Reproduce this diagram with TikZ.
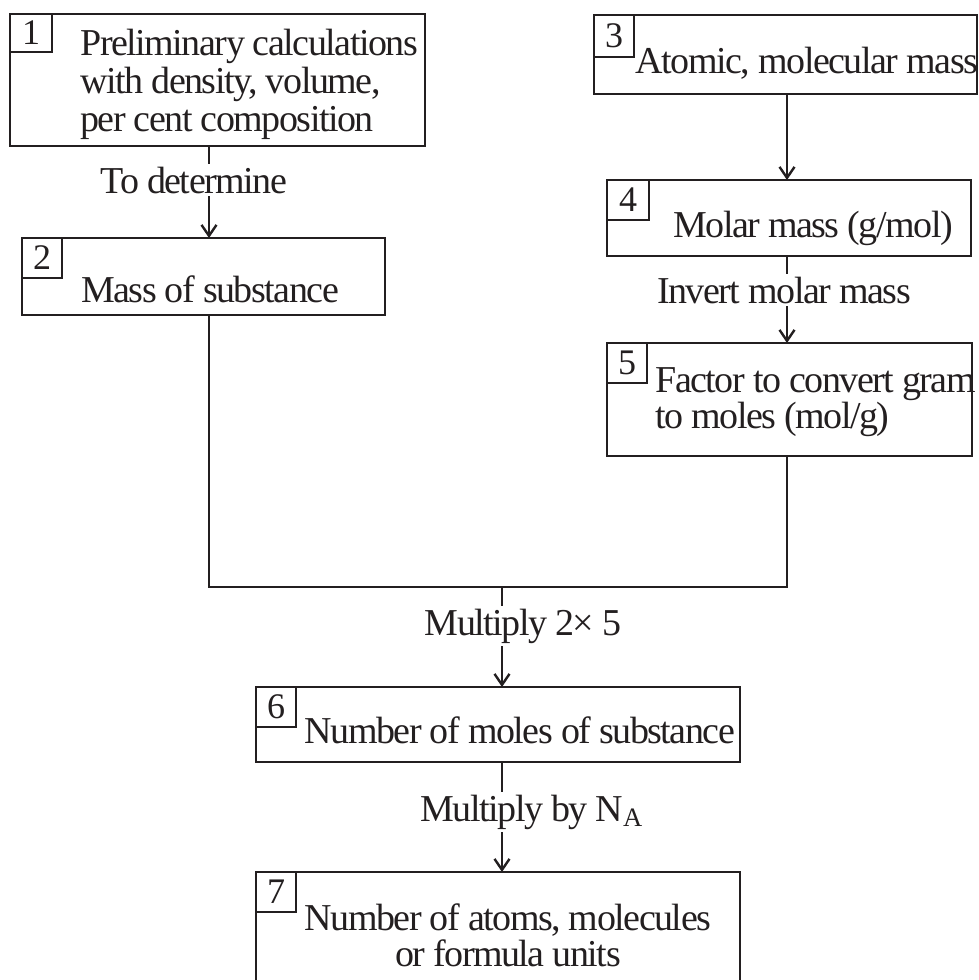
\documentclass[tikz,border=0pt]{standalone}
\usepackage{fontspec}
\setmainfont{Liberation Serif}[LetterSpace=-3.9]
\usepackage{xcolor}
\definecolor{cLine}{HTML}{231F20}
\usepackage{tikz}
\usetikzlibrary{positioning,arrows.meta,fit}
\tikzset{
  node-box/.style={draw=cLine,line width=1.2pt,inner sep=0pt,outer sep=0pt},
  node-tag/.style={draw=cLine,line width=0.9pt,inner sep=0pt,outer sep=0pt,
    anchor=north west,minimum width=20pt,minimum height=20pt,
    font=\fontsize{18}{18}\selectfont,text=cLine},
  node-text/.style={inner sep=0pt,font=\fontsize{19}{19}\selectfont,text=cLine},
  node-label/.style={fill=white,inner sep=1.5pt,anchor=base,
    font=\fontsize{19}{19}\selectfont,text=cLine},
  arrow/.style={-{Straight Barb[length=5.5pt,width=7.5pt]},line width=1.2pt,draw=cLine},
  link/.style={line width=1.2pt,draw=cLine},
}

\begin{document}
\begin{tikzpicture}[x=0.5pt,y=-0.5pt]
  \useasboundingbox (0,0) rectangle (979,980);
  % boxes
  \node[node-box,fit={(10,14) (425,146)}]  (b1) {};
  \node[node-box,fit={(22,238) (385,315)}] (b2) {};
  \node[node-box,fit={(594,15) (977,94)}]  (b3) {};
  \node[node-box,fit={(607,180) (971,256)}] (b4) {};
  \node[node-box,fit={(607,343) (972,456)}] (b5) {};
  \node[node-box,fit={(256,687) (740,762)}] (b6) {};
  \node[node-box,fit={(256,872) (740,986)}] (b7) {};
  % number tags
  \node[node-tag,minimum width=21pt,minimum height=19pt] (n1) at (b1.north west) {1};
  \node[node-tag] (n2) at (b2.north west) {2};
  \node[node-tag,minimum height=21pt] (n3) at (b3.north west) {3};
  \node[node-tag,minimum width=21pt] (n4) at (b4.north west) {4};
  \node[node-tag] (n5) at (b5.north west) {5};
  \node[node-tag] (n6) at (b6.north west) {6};
  \node[node-tag] (n7) at (b7.north west) {7};
  % box texts
  \node[node-text,anchor=north west,align=left] (t1) at (80,29)
    {Preliminary calculations\\with density, volume,\\per cent composition};
  \node[node-text,anchor=base] (t2) at (210,302) {Mass of substance};
  \node[node-text,anchor=base] (t3) at (807,73) {Atomic, molecular mass};
  \node[node-text,anchor=base] (t4) at (813,237) {Molar mass (g/mol)};
  \node[node-text,anchor=north west,align=left] (t5) at (655,367)
    {Factor to convert gram\\[-1pt]to moles (mol/g)};
  \node[node-text,anchor=base] (t6) at (520,743) {Number of moles of substance};
  \node[node-text,anchor=north,align=center] (t7) at (508,903)
    {Number of atoms, molecules\\[-1pt]or formula units};
  % columns of the connectors
  \coordinate (cl) at (209,0);
  \coordinate (cr) at (787,0);
  \coordinate (jn) at (502,587);
  % connectors
  \draw[arrow] (b1.south -| cl) -- node[node-label,xshift=-7.5pt,yshift=-0.5pt] {To determine} (b2.north -| cl);
  \draw[arrow] (b3.south -| cr) -- (b4.north -| cr);
  \draw[arrow] (b4.south -| cr) -- node[node-label,xshift=-1.5pt,yshift=-1.75pt] {Invert molar mass} (b5.north -| cr);
  \draw[link] (b2.south -| cl) |- (jn) -| (b5.south -| cr);
  \draw[arrow] (jn) -- node[node-label,xshift=10.5pt,yshift=1pt] {Multiply 2× 5} (b6.north -| jn);
  \draw[arrow] (b6.south -| jn) -- node[node-label,xshift=15pt,yshift=-2pt] {Multiply by N\textsubscript{A}} (b7.north -| jn);
\end{tikzpicture}
\end{document}
